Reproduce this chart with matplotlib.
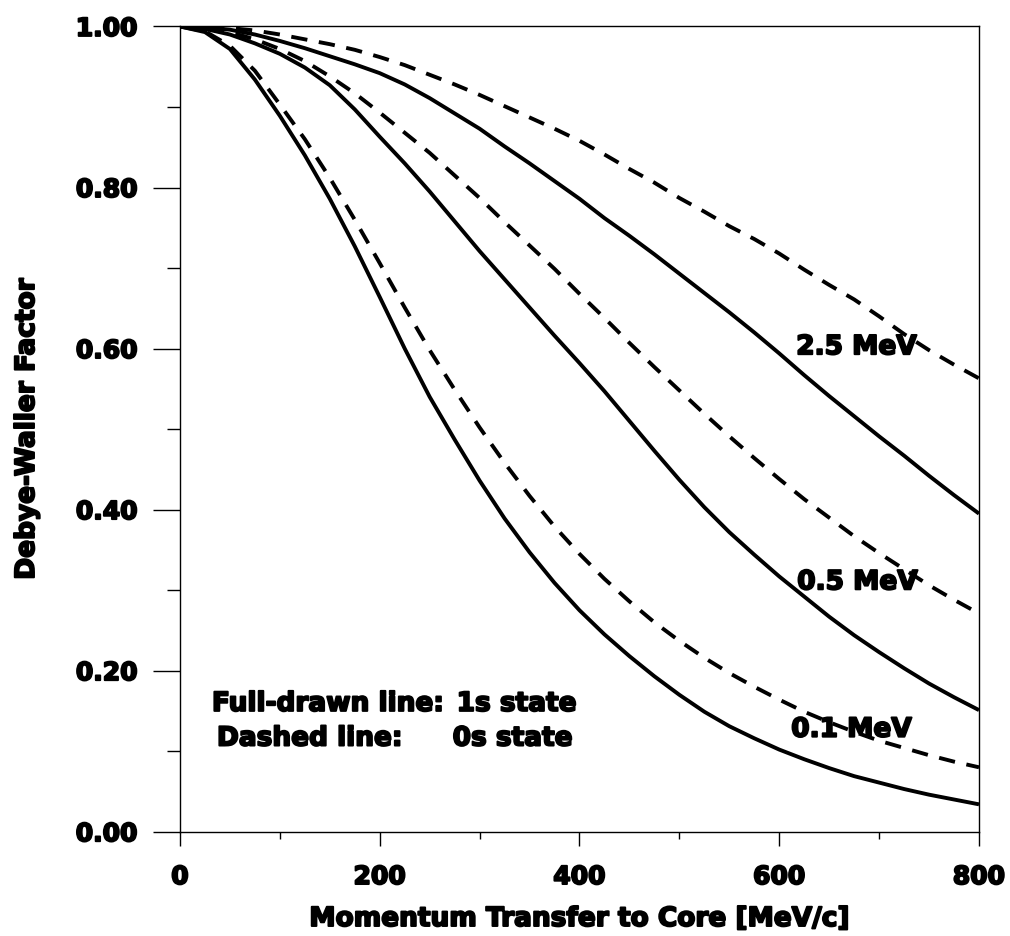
import matplotlib
matplotlib.use('Agg')
import matplotlib.pyplot as plt
import matplotlib.patheffects as pe

plt.rcParams['font.family'] = ['DejaVu Sans']
plt.rcParams['font.weight'] = 'bold'

# Momentum transfer to core [MeV/c]
momentum = list(range(0, 801, 25))

# Debye-Waller factor, full-drawn line = 1s state, dashed = 0s state
dw_01_1s = [1.000, 0.993, 0.972, 0.934, 0.889, 0.840, 0.786, 0.727, 0.664, 0.600, 0.540,
            0.487, 0.436, 0.389, 0.347, 0.309, 0.275, 0.245, 0.218, 0.193, 0.170, 0.149,
            0.131, 0.116, 0.102, 0.090, 0.079, 0.069, 0.061, 0.053, 0.046, 0.040, 0.034]
dw_01_0s = [1.000, 0.994, 0.976, 0.945, 0.903, 0.860, 0.812, 0.760, 0.706, 0.651, 0.598,
            0.549, 0.502, 0.458, 0.417, 0.379, 0.345, 0.314, 0.286, 0.260, 0.237, 0.216,
            0.197, 0.180, 0.164, 0.149, 0.136, 0.124, 0.113, 0.104, 0.095, 0.087, 0.080]
dw_05_1s = [1.000, 0.997, 0.990, 0.979, 0.966, 0.949, 0.927, 0.897, 0.863, 0.830, 0.795,
            0.758, 0.721, 0.686, 0.651, 0.616, 0.582, 0.547, 0.510, 0.473, 0.437, 0.403,
            0.372, 0.344, 0.317, 0.292, 0.267, 0.244, 0.223, 0.203, 0.184, 0.167, 0.151]
dw_05_0s = [1.000, 0.998, 0.993, 0.984, 0.972, 0.957, 0.938, 0.917, 0.893, 0.868, 0.843,
            0.815, 0.787, 0.757, 0.728, 0.699, 0.668, 0.638, 0.607, 0.577, 0.548, 0.519,
            0.491, 0.464, 0.438, 0.413, 0.390, 0.367, 0.346, 0.326, 0.306, 0.288, 0.271]
dw_25_1s = [1.000, 0.999, 0.996, 0.990, 0.982, 0.973, 0.963, 0.953, 0.942, 0.928, 0.911,
            0.892, 0.873, 0.851, 0.830, 0.808, 0.786, 0.762, 0.740, 0.717, 0.693, 0.669,
            0.645, 0.620, 0.594, 0.567, 0.541, 0.516, 0.491, 0.467, 0.442, 0.418, 0.395]
dw_25_0s = [1.000, 0.999, 0.998, 0.995, 0.990, 0.984, 0.978, 0.971, 0.962, 0.952, 0.940,
            0.928, 0.915, 0.901, 0.887, 0.873, 0.858, 0.841, 0.823, 0.806, 0.787, 0.770,
            0.752, 0.736, 0.718, 0.698, 0.679, 0.661, 0.640, 0.618, 0.598, 0.580, 0.563]

x_ticks = [0, 200, 400, 600, 800]
y_ticks = [0.0, 0.2, 0.4, 0.6, 0.8, 1.0]

# heavier look for the text, like the original's black-weight font
heavy = [pe.withStroke(linewidth=1.4, foreground='black')]

fig = plt.figure(figsize=(10.10, 9.37), dpi=100)
ax = fig.add_axes([0.1782, 0.1113, 0.7911, 0.8594])

lw = 2.8
for vals in (dw_01_1s, dw_05_1s, dw_25_1s):
    ax.plot(momentum, vals, color='black', linewidth=lw, solid_capstyle='butt')
for vals in (dw_01_0s, dw_05_0s, dw_25_0s):
    ax.plot(momentum, vals, color='black', linewidth=lw, linestyle=(0, (4.2, 3)))

ax.set_xlim(0, 800)
ax.set_ylim(0, 1.0)
ax.set_xticks(x_ticks)
ax.set_xticks([100, 300, 500, 700], minor=True)
ax.set_yticks(y_ticks)
ax.set_yticks([0.1, 0.3, 0.5, 0.7, 0.9], minor=True)
ax.set_xticklabels([str(t) for t in x_ticks])
ax.set_yticklabels([f'{t:.2f}' for t in y_ticks])

for sp in ax.spines.values():
    sp.set_linewidth(1.0)

ax.tick_params(axis='x', which='major', direction='out', length=10, width=1.0,
               pad=14, labelsize=18)
ax.tick_params(axis='x', which='minor', direction='out', length=5, width=1.0)
ax.tick_params(axis='y', which='major', direction='out', length=19.5, width=1.0,
               pad=11, labelsize=18)
ax.tick_params(axis='y', which='minor', direction='out', length=9.5, width=1.0)

for lbl in ax.get_xticklabels() + ax.get_yticklabels():
    lbl.set_path_effects(heavy)

fig.text(579 / 1010, (937 - 927) / 937, 'Momentum Transfer to Core [MeV/c]',
         ha='center', va='baseline', fontsize=19, fontweight='bold', path_effects=heavy)
fig.text(27 / 1010, (937 - 430) / 937, 'Debye-Waller Factor', rotation=90,
         ha='center', va='center', fontsize=19, fontweight='bold', path_effects=heavy)

# notes in the lower left
notes = [(32, 0.150, 'Full-drawn line:'), (277, 0.150, '1s state'),
         (37, 0.107, 'Dashed line:'), (273, 0.107, '0s state')]
for x, y, s in notes:
    ax.text(x, y, s, fontsize=19, fontweight='bold', path_effects=heavy)

# curve labels
curve_labels = [(617, 0.593, '2.5 MeV'), (618, 0.301, '0.5 MeV'), (612, 0.118, '0.1 MeV')]
for x, y, s in curve_labels:
    ax.text(x, y, s, fontsize=19, fontweight='bold', path_effects=heavy)

fig.savefig('out.png', dpi=100)
